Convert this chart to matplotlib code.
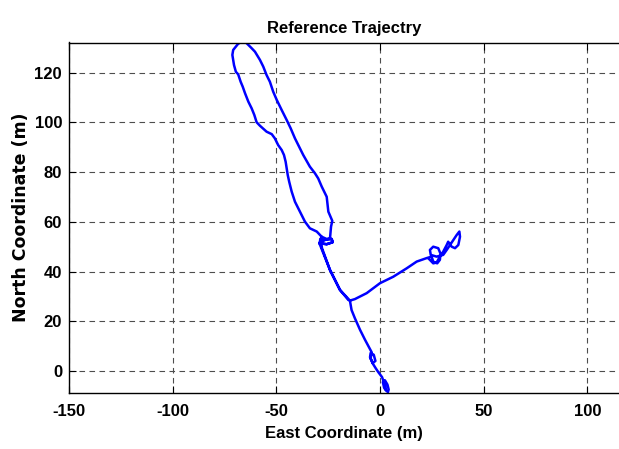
import matplotlib
matplotlib.use("Agg")
import matplotlib.pyplot as plt
import numpy as np

plt.rcParams['font.family'] = ['Liberation Sans Narrow', 'Liberation Sans', 'DejaVu Sans']
plt.rcParams['font.weight'] = 'bold'

# East / North coordinates (m) of the trajectory
east = [3.5, 4.2, 3.6, 2.4, 1.4, 2.0, 3.0, 2.5, 1.0, -0.8, -2.0, -3.5, -4.8, -4.5, -3.0, -2.2, -3.5, -4.5, -4.0,
        -7.2, -9.6, -12.1, -13.7, -14.5, -19.3, -24.1, -28.9,
        -29.3, -25.7, -22.8, -23.3, -25.7, -28.1, -28.9, -27.0, -24.1,
        -23.6, -23.0, -24.9, -25.4, -25.7, -28.1, -29.8, -31.4, -33.8, -37.0, -38.6, -41.0, -43.1, -45.0,
        -47.4, -49.8, -51.5, -53.1, -54.7, -56.3, -57.9, -60.3, -61.9, -64.3, -66.0,
        -68.5, -70.8, -71.2, -70.4, -69.5, -68.4, -67.2, -66.2, -65.1, -63.5, -61.9, -60.6, -59.5, -57.9,
        -54.7, -52.2, -50.7, -49.1, -47.4, -46.3, -45.5, -45.0, -44.5, -43.8, -42.6, -41.0, -38.6, -36.2,
        -33.8, -30.5, -28.1,
        -29.3, -25.7, -22.8, -23.3, -25.7, -28.4,
        -28.0, -24.1, -19.3, -15.3, -14.5,
        -12.1, -6.4, 0.0, 6.4, 12.9, 17.7, 22.5, 24.9,
        25.7, 27.6, 28.9, 29.2, 28.1, 25.7, 24.1, 24.5, 27.3, 30.5, 32.2, 33.8, 35.4, 37.0, 38.3, 38.6,
        37.8, 36.2, 34.6, 32.9, 32.2, 30.5, 28.9, 27.3, 25.7, 23.6]
north = [-9.5, -7.5, -5.5, -3.8, -4.5, -6.8, -8.0, -6.0, -2.5, -0.5, 1.0, 3.0, 5.5, 7.2, 6.5, 4.0, 3.2, 5.0, 7.5,
         12.5, 16.5, 21.2, 24.5, 28.3, 32.6, 40.6, 50.7,
         51.4, 51.0, 51.8, 53.1, 53.1, 54.0, 52.7, 52.6, 53.4,
         58.1, 60.4, 64.1, 68.1, 70.1, 74.2, 77.5, 79.6, 82.2, 86.9, 89.6, 93.6, 97.7, 101.0,
         105.0, 109.1, 112.4, 116.4, 119.1, 122.5, 125.2, 128.5, 129.9, 131.9, 133.0,
         131.6, 129.2, 127.2, 123.1, 120.4, 119.4, 116.4, 114.4, 111.8, 108.4, 105.7, 103.0, 100.1, 98.7,
         96.3, 95.3, 93.6, 90.9, 88.9, 86.9, 84.2, 81.6, 78.9, 76.2, 72.2, 68.1, 64.1, 60.1,
         57.4, 56.1, 54.0,
         51.4, 51.0, 51.8, 53.1, 52.9, 52.3,
         49.5, 40.6, 32.6, 28.6, 28.3,
         28.9, 31.3, 35.3, 37.9, 41.3, 44.0, 45.4, 46.0,
         44.0, 43.3, 44.7, 47.2, 49.4, 50.0, 48.7, 46.7, 46.0, 46.7, 48.7, 50.7, 52.7, 54.7, 56.1, 54.0,
         50.7, 49.4, 50.0, 52.0, 50.7, 48.0, 46.0, 43.6, 43.3, 45.1]

xticks = [-150, -100, -50, 0, 50, 100]
yticks = [0, 20, 40, 60, 80, 100, 120]

W, H = 619, 449
fig = plt.figure(figsize=(W / 100, H / 100), dpi=100)
ax = fig.add_axes([69 / W, (H - 393) / H, (W - 69) / W, (393 - 42.5) / H])
ax.plot(east, north, color='#0000ff', lw=1.8, solid_joinstyle='round')
ax.set_xlim(-150, 115.3)
ax.set_ylim(-8.9, 132.2)
ax.set_xticks(xticks)
ax.set_yticks(yticks)
ax.set_xticklabels([str(v) for v in xticks], fontsize=12, fontweight='bold')
ax.set_yticklabels([str(v) for v in yticks], fontsize=12, fontweight='bold')
ax.tick_params(axis='x', direction='in', length=5, width=0.8, top=True, pad=8)
ax.tick_params(axis='y', direction='in', length=5, width=0.8, right=False, pad=5)
ax.spines['right'].set_visible(False)
for s in ['left', 'top', 'bottom']:
    ax.spines[s].set_linewidth(1.0)
ax.grid(True, color='0.3', linestyle=(0, (5, 4)), lw=0.8)
ax.set_axisbelow(True)
ax.set_title('Reference Trajectry', fontsize=12, fontweight='bold', pad=7)
ax.set_xlabel('East Coordinate (m)', fontsize=12, fontweight='bold', labelpad=5)
ax.set_ylabel('North Coordinate (m)', fontsize=12.5, fontweight='bold', labelpad=3,
              family=['DejaVu Sans'])
fig.savefig('out.png', dpi=100)
